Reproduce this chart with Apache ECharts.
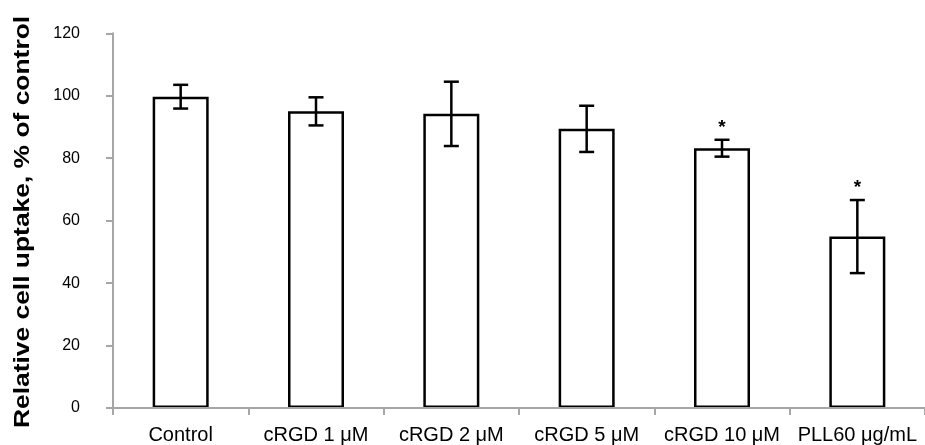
<!DOCTYPE html>
<html>
<head>
<meta charset="utf-8">
<script src="https://cdn.jsdelivr.net/npm/echarts@6/dist/echarts.min.js"></script>
<style>
html,body{margin:0;padding:0;background:#fff;}
#chart{width:925px;height:445px;}
</style>
</head>
<body>
<div id="chart"></div>
<script>
const categories = ['Control', 'cRGD 1 \u03bcM', 'cRGD 2 \u03bcM', 'cRGD 5 \u03bcM', 'cRGD 10 \u03bcM', 'PLL60 \u03bcg/mL'];
const means = [99.7, 95.0, 94.2, 89.4, 83.2, 54.9];
const errors = [3.8, 4.5, 10.3, 7.4, 2.7, 11.7];
const marks = ['', '', '', '', '*', '*'];
const yTicks = { min: 0, max: 120, interval: 20 };
const yTitle = 'Relative cell uptake, % of control';

const FONT = '"Liberation Sans", Arial, sans-serif';
const AXIS_COLOR = '#a6a6a6';

const chart = echarts.init(document.getElementById('chart'), null, { renderer: 'canvas' });

const errData = categories.map((c, i) => [i, means[i] - errors[i], means[i] + errors[i], marks[i]]);

chart.setOption({
  animation: false,
  backgroundColor: '#fff',
  grid: { left: 113, right: -7.5, top: 33.3, bottom: 36.7 },
  xAxis: {
    type: 'category',
    data: categories,
    z: 5,
    axisLine: { lineStyle: { color: AXIS_COLOR, width: 2 } },
    axisTick: { show: true, length: 7, lineStyle: { color: AXIS_COLOR, width: 2 } },
    axisLabel: { interval: 0, fontSize: 20, color: '#000', fontFamily: FONT, margin: 17 }
  },
  yAxis: {
    type: 'value',
    min: yTicks.min,
    max: yTicks.max,
    interval: yTicks.interval,
    splitLine: { show: false },
    axisLine: { show: true, lineStyle: { color: AXIS_COLOR, width: 2 } },
    axisTick: { show: true, length: 7, lineStyle: { color: AXIS_COLOR, width: 2 } },
    axisLabel: { fontSize: 16, color: '#000', fontFamily: FONT, margin: 33 }
  },
  graphic: [{
    type: 'text',
    x: 23,
    y: 222,
    rotation: Math.PI / 2,
    scaleX: 1.2,
    scaleY: 1,
    style: {
      text: yTitle,
      font: 'bold 22px ' + FONT,
      fill: '#000',
      textAlign: 'center',
      textVerticalAlign: 'middle'
    }
  }],
  series: [
    {
      type: 'bar',
      data: means,
      barWidth: 56,
      itemStyle: { color: '#fff', borderColor: '#000', borderWidth: 2.5 },
      z: 2
    },
    {
      type: 'custom',
      data: errData,
      z: 3,
      encode: { x: 0, y: [1, 2] },
      renderItem: function (params, api) {
        const i = api.value(0);
        const lo = api.coord([i, api.value(1)]);
        const hi = api.coord([i, api.value(2)]);
        const half = 7.5;
        const style = { stroke: '#000', lineWidth: 2.5 };
        const children = [
          { type: 'line', shape: { x1: hi[0], y1: hi[1], x2: lo[0], y2: lo[1] }, style: style },
          { type: 'line', shape: { x1: hi[0] - half, y1: hi[1], x2: hi[0] + half, y2: hi[1] }, style: style },
          { type: 'line', shape: { x1: lo[0] - half, y1: lo[1], x2: lo[0] + half, y2: lo[1] }, style: style }
        ];
        const m = marks[params.dataIndex];
        if (m) {
          children.push({
            type: 'text',
            x: hi[0],
            y: hi[1] - 12,
            style: { text: m, font: 'bold 19px ' + FONT, fill: '#000', textAlign: 'center', textVerticalAlign: 'middle' }
          });
        }
        return { type: 'group', children: children };
      }
    }
  ]
});
</script>
</body>
</html>
